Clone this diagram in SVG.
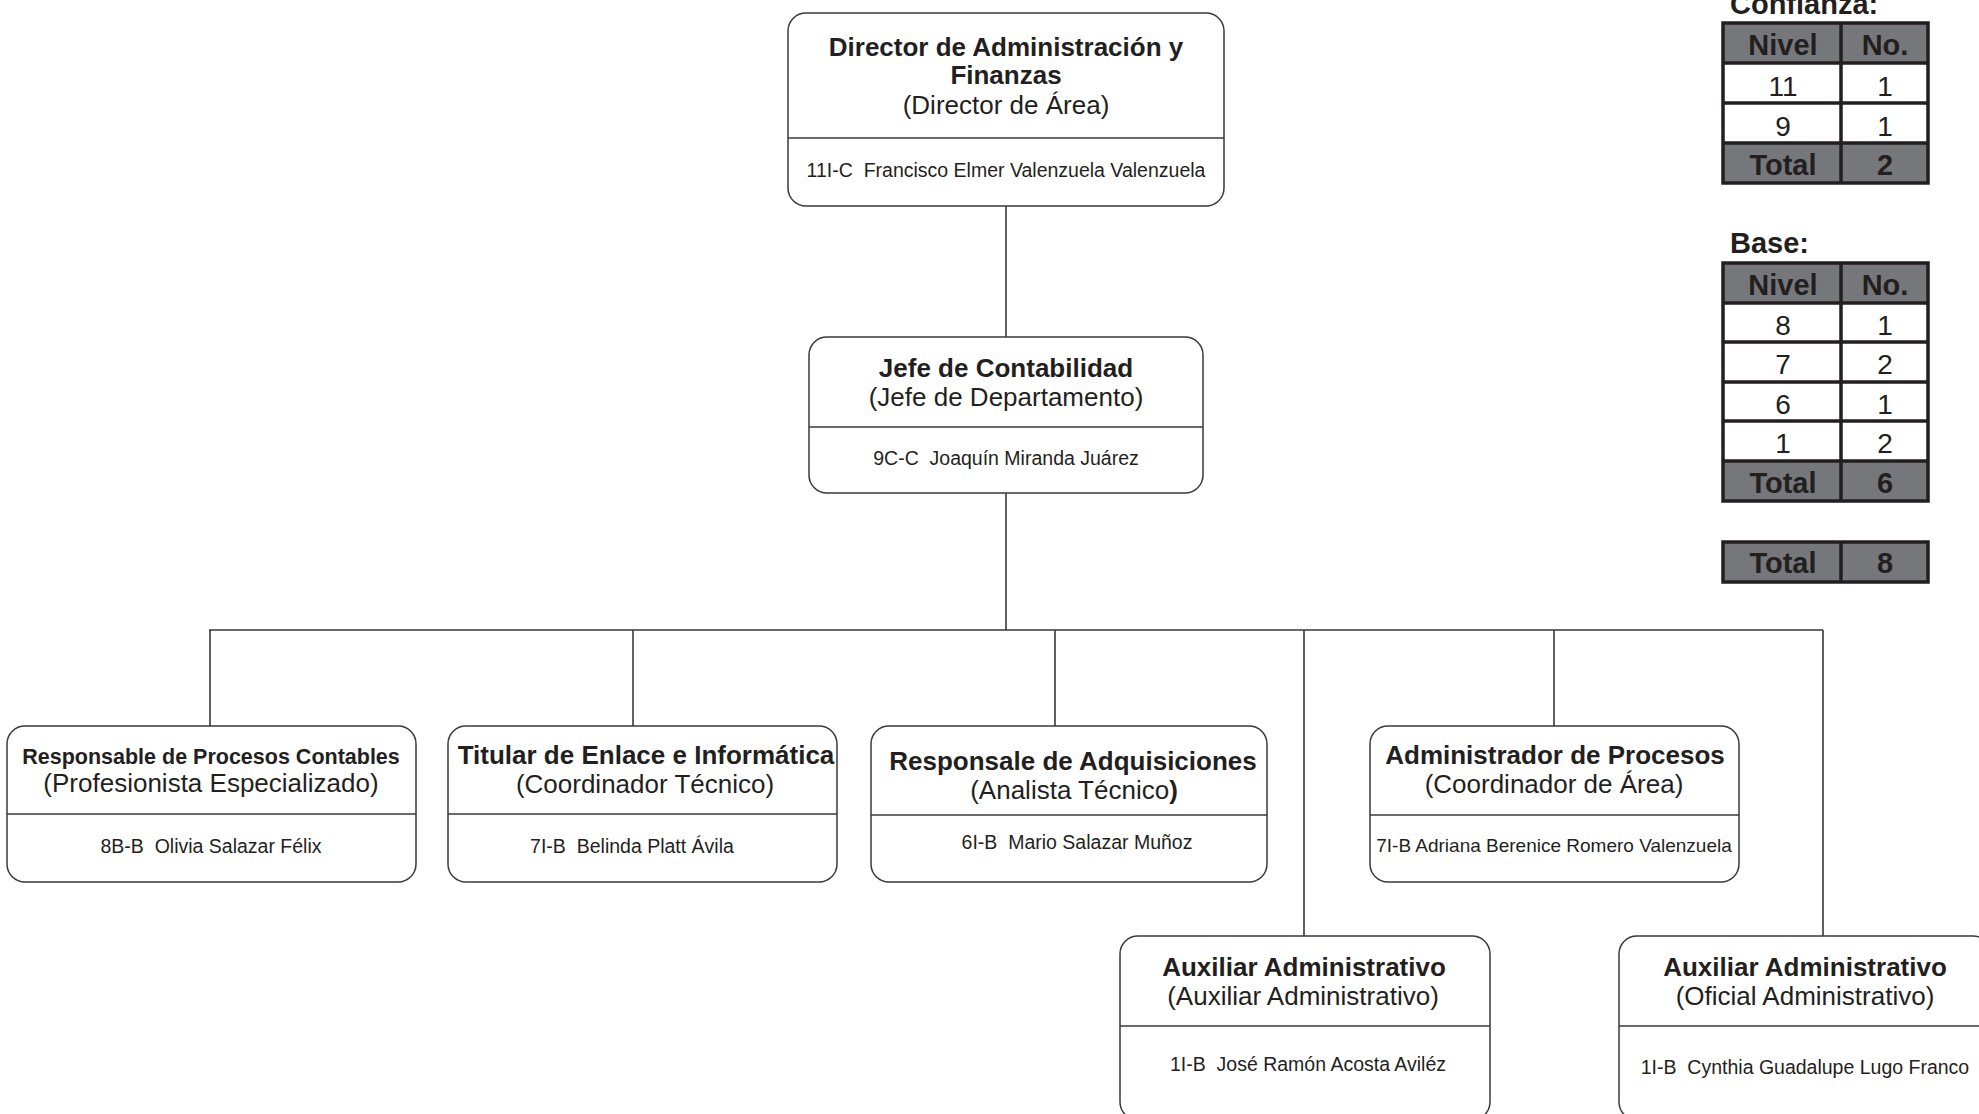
<svg xmlns="http://www.w3.org/2000/svg" width="1979" height="1114" viewBox="0 0 1979 1114">
<style>
.box{fill:#fff;stroke:#3a3a3a;stroke-width:1.5}
.dv{stroke:#3a3a3a;stroke-width:1.3;fill:none}
.cn{stroke:#3a3a3a;stroke-width:1.6;fill:none}
text{font-family:"Liberation Sans",Arial,Helvetica,sans-serif;fill:#231f20;text-anchor:middle}
.t{font-weight:bold;font-size:26px}
.s{font-size:26px}
.n{font-size:19.5px}
.hd{fill:#76777a}
.bd{fill:#fff}
.tb{stroke:#231f20;stroke-width:3.5;fill:none}
.th{font-weight:bold;font-size:29px}
.tn{font-size:28px}
.lb{font-weight:bold;font-size:29px;text-anchor:start}
</style>
<rect width="1979" height="1114" fill="#fff"/>
<g id="connectors">
<path class="cn" d="M1006 206V338M1006 493V630M209 630H1823M210 630V726M633 630V726M1055 630V726M1304 630V936M1554 630V726M1823 630V936"/>
</g>
<g id="n-director">
<rect class="box" x="788" y="13" width="436" height="193" rx="18"/>
<path class="dv" d="M788 138H1224"/>
<text class="t" x="1006" y="56">Director de Administración y</text>
<text class="t" x="1006" y="84">Finanzas</text>
<text class="s" x="1006" y="114">(Director de Área)</text>
<text class="n" x="1006" y="177" xml:space="preserve">11I-C  Francisco Elmer Valenzuela Valenzuela</text>
</g>
<g id="n-jefe">
<rect class="box" x="809" y="337" width="394" height="156" rx="18"/>
<path class="dv" d="M809 427H1203"/>
<text class="t" x="1006" y="377">Jefe de Contabilidad</text>
<text class="s" x="1006" y="406">(Jefe de Departamento)</text>
<text class="n" x="1006" y="465" xml:space="preserve">9C-C  Joaquín Miranda Juárez</text>
</g>
<g id="n-procesos-contables">
<rect class="box" x="7" y="726" width="409" height="156" rx="18"/>
<path class="dv" d="M7 814H416"/>
<text class="t" x="211" y="764" style="font-size:21.5px">Responsable de Procesos Contables</text>
<text class="s" x="211" y="792">(Profesionista Especializado)</text>
<text class="n" x="211" y="853" xml:space="preserve">8B-B  Olivia Salazar Félix</text>
</g>
<g id="n-enlace">
<rect class="box" x="448" y="726" width="389" height="156" rx="18"/>
<path class="dv" d="M448 814H837"/>
<text class="t" x="646" y="764">Titular de Enlace e Informática</text>
<text class="s" x="645" y="793">(Coordinador Técnico)</text>
<text class="n" x="632" y="853" xml:space="preserve">7I-B  Belinda Platt Ávila</text>
</g>
<g id="n-adquisiciones">
<rect class="box" x="871" y="726" width="396" height="156" rx="18"/>
<path class="dv" d="M871 815H1267"/>
<text class="t" x="1073" y="770">Responsale de Adquisiciones</text>
<text class="s" x="1074" y="799">(Analista Técnico<tspan font-weight="bold">)</tspan></text>
<text class="n" x="1077" y="849" xml:space="preserve">6I-B  Mario Salazar Muñoz</text>
</g>
<g id="n-admin-procesos">
<rect class="box" x="1370" y="726" width="369" height="156" rx="18"/>
<path class="dv" d="M1370 815H1739"/>
<text class="t" x="1555" y="764">Administrador de Procesos</text>
<text class="s" x="1554" y="793">(Coordinador de Área)</text>
<text class="n" x="1554" y="852" style="font-size:19px">7I-B Adriana Berenice Romero Valenzuela</text>
</g>
<g id="n-auxiliar-1">
<rect class="box" x="1120" y="936" width="370" height="184" rx="18"/>
<path class="dv" d="M1120 1026H1490"/>
<text class="t" x="1304" y="976">Auxiliar Administrativo</text>
<text class="s" x="1303" y="1005">(Auxiliar Administrativo)</text>
<text class="n" x="1308" y="1071" xml:space="preserve">1I-B  José Ramón Acosta Aviléz</text>
</g>
<g id="n-auxiliar-2">
<rect class="box" x="1619" y="936" width="372" height="184" rx="18"/>
<path class="dv" d="M1619 1026H1991"/>
<text class="t" x="1805" y="976">Auxiliar Administrativo</text>
<text class="s" x="1805" y="1005">(Oficial Administrativo)</text>
<text class="n" x="1805" y="1074" xml:space="preserve">1I-B  Cynthia Guadalupe Lugo Franco</text>
</g>
<g id="tabla-confianza">
<text class="lb" x="1730" y="14">Confianza:</text>
<rect class="hd" x="1723" y="23" width="205" height="40"/>
<rect class="hd" x="1723" y="143" width="205" height="40"/>
<path class="tb" d="M1723 23H1928V183H1723ZM1841 23V183M1723 63H1928M1723 103H1928M1723 143H1928"/>
<text class="th" x="1783" y="55">Nivel</text>
<text class="th" x="1885" y="55">No.</text>
<text class="tn" x="1783" y="96">11</text>
<text class="tn" x="1885" y="96">1</text>
<text class="tn" x="1783" y="136">9</text>
<text class="tn" x="1885" y="136">1</text>
<text class="th" x="1783" y="175">Total</text>
<text class="th" x="1885" y="175">2</text>
</g>
<g id="tabla-base">
<text class="lb" x="1730" y="253">Base:</text>
<rect class="hd" x="1723" y="263" width="205" height="40"/>
<rect class="hd" x="1723" y="461" width="205" height="40"/>
<path class="tb" d="M1723 263H1928V501H1723ZM1841 263V501M1723 303H1928M1723 342H1928M1723 382H1928M1723 421H1928M1723 461H1928"/>
<text class="th" x="1783" y="295">Nivel</text>
<text class="th" x="1885" y="295">No.</text>
<text class="tn" x="1783" y="335">8</text>
<text class="tn" x="1885" y="335">1</text>
<text class="tn" x="1783" y="374">7</text>
<text class="tn" x="1885" y="374">2</text>
<text class="tn" x="1783" y="414">6</text>
<text class="tn" x="1885" y="414">1</text>
<text class="tn" x="1783" y="453">1</text>
<text class="tn" x="1885" y="453">2</text>
<text class="th" x="1783" y="493">Total</text>
<text class="th" x="1885" y="493">6</text>
</g>
<g id="tabla-total">
<rect class="hd" x="1723" y="542" width="205" height="40"/>
<path class="tb" d="M1723 542H1928V582H1723ZM1841 542V582"/>
<text class="th" x="1783" y="573">Total</text>
<text class="th" x="1885" y="573">8</text>
</g>
</svg>
